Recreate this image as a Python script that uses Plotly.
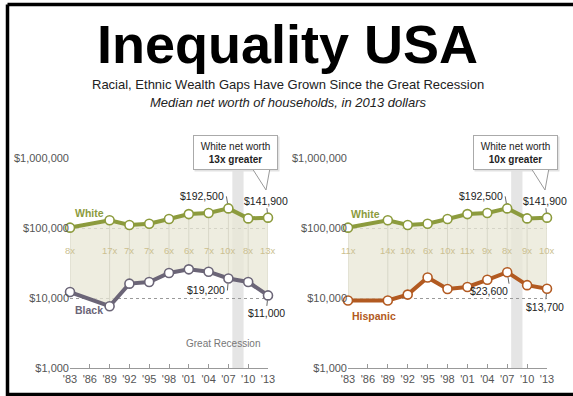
import math
import plotly.graph_objects as go

W, H = 573, 396

# Survey years with data, and the full set of axis ticks
years = [1983, 1989, 1992, 1995, 1998, 2001, 2004, 2007, 2010, 2013]
tick_years = [1983, 1986, 1989, 1992, 1995, 1998, 2001, 2004, 2007, 2010, 2013]
tick_labels = ["'83", "'86", "'89", "'92", "'95", "'98", "'01", "'04", "'07", "'10", "'13"]

# Median net worth of households, 2013 dollars
white = [102200, 130100, 111700, 116000, 135900, 159600, 165500, 192500, 138600, 141900]
black = [12300, 7700, 16200, 17100, 23000, 25900, 24000, 19200, 17100, 11000]
hispanic = [9300, 9300, 11300, 19800, 13600, 14500, 18400, 23600, 15400, 13700]

y_ticks = [1000, 10000, 100000, 1000000]
y_tick_labels = ["$1,000", "$10,000", "$100,000", "$1,000,000"]

recession_start, recession_end = 2007.6, 2009.3

WHITE_C = "#8c9b3d"
BLACK_C = "#6b6577"
HISP_C = "#b25a21"
RATIO_C = "#cbbf90"
FILL_C = "rgba(232,231,214,0.75)"
SEP_C = "#d8d7c8"
TXT = "#222222"
GREY = "#555555"
BASE_FONT = "Liberation Sans, Arial, sans-serif"


def px(x):
    return x / W


def py(y):
    return 1 - y / H


def money(v):
    return "${:,}".format(v)


def paper_text(x, y, text, font, **kw):
    d = dict(x=px(x), y=py(y), xref="paper", yref="paper", text=text,
             showarrow=False, xanchor="center", yanchor="middle", font=font)
    d.update(kw)
    return d


fig = go.Figure()
annotations = []
shapes = []

panels = [
    dict(xa="x", ya="y", xref="x", yref="y", other=black,
         color=BLACK_C, name="Black", name_pos=(73, 310),
         white_name_pos=(73, 213), box=(193, 278), tail=(252, 270, 266),
         low07=(-1, 12)),
    dict(xa="x2", ya="y2", xref="x2", yref="y2", other=hispanic,
         color=HISP_C, name="Hispanic", name_pos=(350, 316),
         white_name_pos=(349, 214), box=(473, 558), tail=(531, 549, 545),
         low07=(3, 19)),
]

for p in panels:
    xa, ya, other = p["xa"], p["ya"], p["other"]
    # shaded gap between the two series
    fig.add_trace(go.Scatter(x=years, y=other, xaxis=xa, yaxis=ya, mode="lines",
                             line=dict(width=0), hoverinfo="skip", showlegend=False))
    fig.add_trace(go.Scatter(x=years, y=white, xaxis=xa, yaxis=ya, mode="lines",
                             line=dict(width=0), fill="tonexty", fillcolor=FILL_C,
                             hoverinfo="skip", showlegend=False))
    # thin vertical separators at each survey year
    sx, sy = [], []
    for yr, w, o in zip(years, white, other):
        sx += [yr, yr, None]
        sy += [w, o, None]
    fig.add_trace(go.Scatter(x=sx, y=sy, xaxis=xa, yaxis=ya, mode="lines",
                             line=dict(color=SEP_C, width=1), hoverinfo="skip",
                             showlegend=False))
    for series, col in ((other, p["color"]), (white, WHITE_C)):
        fig.add_trace(go.Scatter(
            x=years, y=series, xaxis=xa, yaxis=ya, mode="lines+markers",
            line=dict(color=col, width=4),
            marker=dict(symbol="circle", size=9, color="white",
                        line=dict(color=col, width=1.6)),
            cliponaxis=False, showlegend=False))

    # recession band
    shapes.append(dict(type="rect", xref=p["xref"], yref=p["yref"] + " domain",
                       x0=recession_start, x1=recession_end, y0=0, y1=1.07,
                       fillcolor="#e5e5e5", line=dict(width=0), layer="below"))

    # ratio labels
    for yr, w, o in zip(years, white, other):
        annotations.append(dict(
            x=yr, y=0.563, xref=p["xref"], yref=p["yref"] + " domain",
            xanchor="center", yanchor="middle",
            text="{}x".format(round(w / o)), showarrow=False,
            font=dict(family=BASE_FONT, size=9.5, color=RATIO_C)))

    # series names
    nx, ny = p["white_name_pos"]
    annotations.append(paper_text(nx, ny, "<b>White</b>",
                                  dict(family=BASE_FONT, size=10.5, color=WHITE_C),
                                  xanchor="left"))
    nx, ny = p["name_pos"]
    annotations.append(paper_text(nx, ny, "<b>%s</b>" % p["name"],
                                  dict(family=BASE_FONT, size=10.5, color=p["color"]),
                                  xanchor="left"))

    # value labels with leader lines
    lab_font = dict(family=BASE_FONT, size=10.5, color=TXT)
    i07 = years.index(2007)
    lead = dict(showarrow=True, arrowhead=0, arrowwidth=1, arrowcolor="#666",
                standoff=5, font=lab_font, xref=p["xref"], yref=p["yref"])
    annotations.append(dict(lead, x=2007, y=math.log10(white[i07]),
                            text=money(white[i07]), ax=-2, ay=-12, xanchor="right"))
    annotations.append(dict(lead, x=2013, y=math.log10(white[-1]),
                            text=money(white[-1]), ax=-2, ay=-17))
    lax, lay = p["low07"]
    annotations.append(dict(lead, x=2007, y=math.log10(other[i07]),
                            text=money(other[i07]), ax=lax, ay=lay, xanchor="right"))
    annotations.append(dict(lead, x=2013, y=math.log10(other[-1]),
                            text=money(other[-1]), ax=-2, ay=18))

    # callout box with a speech-bubble tail
    bx0, bx1 = p["box"]
    by0, by1 = 135, 170
    shapes.append(dict(type="rect", xref="paper", yref="paper",
                       x0=px(bx0 + 1.5), x1=px(bx1 + 1.5), y0=py(by1 + 1.5), y1=py(by0 + 1.5),
                       fillcolor="#e2e2e2", line=dict(width=0), layer="above"))
    tl, tr, tip = p["tail"]
    shapes.append(dict(type="path", xref="paper", yref="paper",
                       path="M {},{} L {},{} L {},{} Z".format(
                           px(tl), py(by1 - 2), px(tip), py(190), px(tr), py(by1 - 2)),
                       fillcolor="white", line=dict(color="#999999", width=1),
                       layer="above"))
    ratio_now = round(white[-1] / other[-1])
    annotations.append(paper_text(
        (bx0 + bx1) / 2, (by0 + by1) / 2,
        "White net worth<br><b>%dx greater</b>" % ratio_now,
        dict(family=BASE_FONT, size=10, color=TXT),
        width=bx1 - bx0 - 8, height=by1 - by0 - 8, borderpad=3,
        bgcolor="white", bordercolor="#aaaaaa", borderwidth=1))

annotations.append(paper_text(223, 343, "Great Recession",
                              dict(family=BASE_FONT, size=10, color="#777777")))

# headings
annotations.append(paper_text(287, 44, "<b>Inequality USA</b>",
                              dict(family=BASE_FONT, size=54, color="black")))
annotations.append(paper_text(288, 84,
                              "Racial, Ethnic Wealth Gaps Have Grown Since the Great Recession",
                              dict(family=BASE_FONT, size=13, color="#222")))
annotations.append(paper_text(288, 102,
                              "<i>Median net worth of households, in 2013 dollars</i>",
                              dict(family=BASE_FONT, size=13, color="#222")))

# frame
for x0, y0, x1, y1 in ((7.5, 4.5, 7.5, 396), (7.5, 4.5, 573, 4.5), (7.5, 394.5, 573, 394.5)):
    shapes.append(dict(type="line", xref="paper", yref="paper",
                       x0=px(x0), y0=py(y0), x1=px(x1), y1=py(y1),
                       line=dict(color="black", width=3.5), layer="above"))

xcommon = dict(range=[1983, 2013], tickvals=tick_years, ticktext=tick_labels,
               ticks="inside", ticklen=4, tickcolor="#999999", showline=True,
               linecolor="#999999", linewidth=1, showgrid=False, zeroline=False,
               automargin=False,
               tickfont=dict(family=BASE_FONT, size=11, color=GREY), fixedrange=True)
ycommon = dict(type="log", range=[3, 6], domain=[py(368.3), py(158.3)],
               tickvals=y_ticks, ticktext=y_tick_labels, showgrid=True,
               gridcolor="#9a9a9a", griddash="dot", gridwidth=1, showline=False,
               ticks="", zeroline=False, automargin=False,
               tickfont=dict(family=BASE_FONT, size=11, color=GREY), fixedrange=True)

fig.update_layout(
    width=W, height=H, margin=dict(l=0, r=0, t=0, b=0, pad=0, autoexpand=False),
    paper_bgcolor="white", plot_bgcolor="white", showlegend=False,
    font=dict(family=BASE_FONT, color=GREY),
    xaxis=dict(xcommon, domain=[px(70), px(268)], anchor="y"),
    yaxis=dict(ycommon, anchor="x"),
    xaxis2=dict(xcommon, domain=[px(348), px(547)], anchor="y2"),
    yaxis2=dict(ycommon, anchor="x2"),
    annotations=annotations, shapes=shapes,
)

fig.write_html("out.html")
